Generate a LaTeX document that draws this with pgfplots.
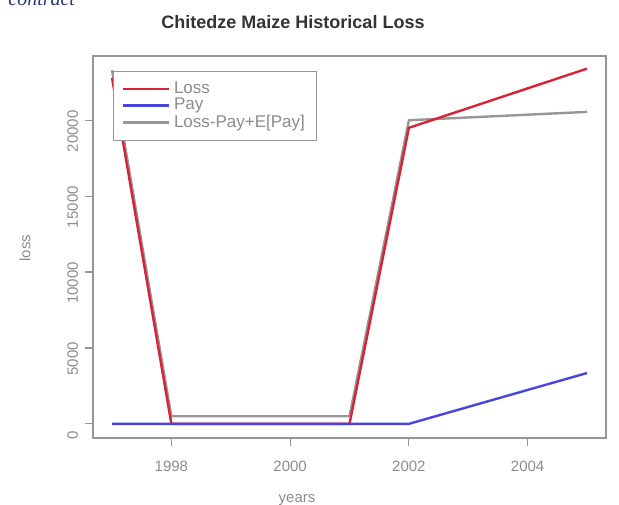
\documentclass[border=0pt]{standalone}
\usepackage{pgfplots}
\pgfplotsset{compat=1.18}
\usepackage{fontspec}
\setmainfont{Liberation Sans}
\newfontfamily\docfont{Liberation Serif}

\definecolor{lossred}{RGB}{215,35,55}
\definecolor{payblue}{RGB}{70,70,220}
\definecolor{netgray}{RGB}{150,150,150}
\definecolor{framegray}{RGB}{150,150,150}
\definecolor{textgray}{RGB}{140,140,140}
\definecolor{docblue}{RGB}{35,55,120}

\begin{document}
\begin{tikzpicture}[x=0.5pt,y=0.5pt]
\useasboundingbox (0,0) rectangle (619,504);
% remnant of the surrounding document text
\node[anchor=base west, inner sep=0, text=docblue,
      font=\docfont\itshape\fontsize{10}{12}\selectfont] at (8,498) {contract};

\begin{axis}[
  at={(46.5pt,33pt)}, anchor=south west,
  scale only axis, width=256.5pt, height=191pt,
  xmin=1996.68, xmax=2005.32, ymin=-932, ymax=24232,
  axis line style={framegray, line width=0.6pt},
  xtick={1998,2000,2002,2004},
  ytick={0,5000,10000,15000,20000},
  scaled y ticks=false,
  tick align=outside, xtick pos=bottom, ytick pos=left,
  major tick length=4pt,
  tick style={framegray, line width=0.6pt},
  /pgf/number format/1000 sep={},
  /pgf/number format/assume math mode=true,
  x tick label style={font=\fontsize{7.5}{9}\selectfont, text=textgray, yshift=-4pt},
  y tick label style={rotate=90, anchor=south, font=\fontsize{7.5}{9}\selectfont, text=textgray, xshift=-5.5pt},
  legend style={at={(0.039,0.961)}, anchor=north west, draw=framegray,
    fill=white, font=\fontsize{8.5}{10}\selectfont, text=textgray,
    inner xsep=4pt, inner ysep=3pt, row sep=-3pt, line width=0.6pt},
  legend cell align=left,
  legend image code/.code={\draw[#1] (4pt,0pt) -- (19pt,0pt); \path (0pt,0pt) -- (23pt,0pt);},
]
% net line drawn first so the loss line lies over it
\addplot[netgray, line width=1.2pt, forget plot] coordinates {
  (1997,23300) (1998,500) (2001,500) (2002,20000) (2005,20550)
};
\addplot[lossred, line width=1.2pt] coordinates {
  (1997,22800) (1998,0) (2001,0) (2002,19500) (2005,23400)
};
\addlegendentry{Loss}
\addplot[payblue, line width=1.2pt] coordinates {
  (1997,0) (1998,0) (2001,0) (2002,0) (2005,3350)
};
\addlegendentry{Pay}
\addlegendimage{netgray, line width=1.2pt}
\addlegendentry{Loss-Pay+E[Pay]}
\end{axis}

\node[font=\bfseries\fontsize{9}{11}\selectfont, text=black!80] at (293,482) {Chitedze Maize Historical Loss};
\node[font=\fontsize{7.5}{9}\selectfont, text=textgray] at (297,4) {years};
\node[font=\fontsize{7.5}{9}\selectfont, text=textgray, rotate=90] at (25,256) {loss};
\end{tikzpicture}
\end{document}
